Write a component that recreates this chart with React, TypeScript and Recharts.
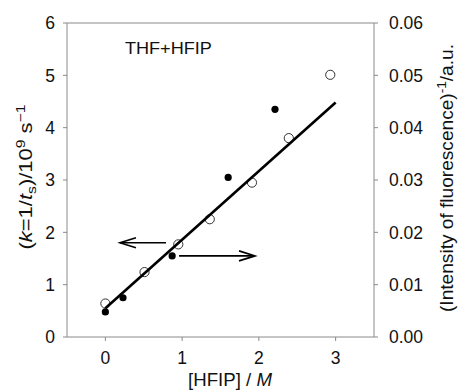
import { ComposedChart, XAxis, YAxis, Scatter, ReferenceLine, ReferenceDot } from "recharts"

// filled circles: rate constant (left axis)
const hfipFilled = [0, 0.23, 0.87, 1.6, 2.21]
const rateFilled = [0.48, 0.75, 1.55, 3.05, 4.35]

// open circles: inverse fluorescence intensity (right axis)
const hfipOpen = [0, 0.51, 0.95, 1.36, 1.91, 2.39, 2.93]
const invIntensity = [0.0064, 0.0124, 0.0177, 0.0225, 0.0295, 0.038, 0.0501]

// fitted straight line (left axis)
const fitX = [0, 3.0]
const fitY = [0.55, 4.48]

const xTicks = [0, 1, 2, 3]
const leftTicks = [0, 1, 2, 3, 4, 5, 6]
const rightTicks = [0, 0.01, 0.02, 0.03, 0.04, 0.05, 0.06]

// arrows pointing to the axis each series belongs to (left-axis units)
const arrowFrom = [0.79, 0.96]
const arrowTo = [0.19, 1.95]
const arrowY = [1.8, 1.55]

const filledData = hfipFilled.map((x, i) => ({ x, y: rateFilled[i] }))
const openData = hfipOpen.map((x, i) => ({ x, y: invIntensity[i] }))
const fitData = fitX.map((x, i) => ({ x, y: fitY[i] }))

const FONT = "'Liberation Sans', Arial, Helvetica, sans-serif"
const FRAME = "#8a8a8a"

const FilledDot = (p: any) => <circle cx={p.cx} cy={p.cy} r={3.6} fill="#000" />
const OpenDot = (p: any) => <circle cx={p.cx} cy={p.cy} r={4.6} fill="#fff" stroke="#333" strokeWidth={1} />

const Arrow = (p: any) => {
    const { x1, y1, x2, y2 } = p
    if (x1 == null) return null
    const dir = x2 > x1 ? 1 : -1
    return (
        <g stroke="#000" strokeWidth={1.6} fill="none">
            <line x1={x1} y1={y1} x2={x2} y2={y2} />
            <polyline points={`${x2 - dir * 16},${y2 - 5} ${x2},${y2} ${x2 - dir * 16},${y2 + 5}`} />
        </g>
    )
}

const LeftLabel = () => (
    <text
        transform="rotate(-90 32 177)"
        x={32}
        y={177}
        textAnchor="middle"
        fontSize={17.5}
        fill="#111"
        fontFamily={FONT}
        textLength={145}
        lengthAdjust="spacingAndGlyphs"
    >
        (<tspan fontStyle="italic">k</tspan>=1/<tspan fontStyle="italic">t</tspan>
        <tspan fontSize={12.5} dy={4}>s</tspan>
        <tspan dy={-4}>)/10</tspan>
        <tspan fontSize={12.5} dy={-7}>9</tspan>
        <tspan dy={7}> s</tspan>
        <tspan fontSize={12.5} dy={-7}>−1</tspan>
    </text>
)

const RightLabel = () => (
    <text
        transform="rotate(-90 453 178)"
        x={453}
        y={178}
        textAnchor="middle"
        fontSize={17.5}
        fill="#111"
        fontFamily={FONT}
        textLength={268}
        lengthAdjust="spacingAndGlyphs"
    >
        (Intensity of fluorescence)
        <tspan fontSize={12.5} dy={-7}>-1</tspan>
        <tspan dy={7}>/a.u.</tspan>
    </text>
)

const BottomLabel = () => (
    <text x={230} y={386} textAnchor="middle" fontSize={17.5} fill="#111" fontFamily={FONT} textLength={84} lengthAdjust="spacingAndGlyphs">
        [HFIP] / <tspan fontStyle="italic">M</tspan>
    </text>
)

const TitleLabel = (p: any) => (
    <text x={p.viewBox.x} y={p.viewBox.y} fontSize={17} fill="#111" fontFamily={FONT} textLength={87} lengthAdjust="spacingAndGlyphs">
        THF+HFIP
    </text>
)

export default function App() {
    const tick = { fontSize: 17.5, fill: "#111", fontFamily: FONT }
    return (
        <div style={{ position: "absolute", left: 0, top: 0 }}>
            <ComposedChart width={459} height={392} margin={{ top: 23, right: 0, bottom: 0, left: 0 }} style={{ fontFamily: FONT }}>
                <XAxis
                    type="number"
                    dataKey="x"
                    domain={[-0.5, 3.5]}
                    ticks={xTicks}
                    height={55}
                    tickSize={4}
                    tickMargin={11}
                    tick={tick}
                    axisLine={{ stroke: FRAME }}
                    tickLine={{ stroke: FRAME }}
                    allowDataOverflow
                    label={{ content: BottomLabel }}
                />
                <YAxis
                    yAxisId="left"
                    type="number"
                    dataKey="y"
                    domain={[0, 6]}
                    ticks={leftTicks}
                    width={67}
                    tickSize={4}
                    tickMargin={8}
                    tick={tick}
                    axisLine={{ stroke: FRAME }}
                    tickLine={{ stroke: FRAME }}
                    allowDataOverflow
                    label={{ content: LeftLabel }}
                />
                <YAxis
                    yAxisId="right"
                    orientation="right"
                    type="number"
                    dataKey="y"
                    domain={[0, 0.06]}
                    ticks={rightTicks}
                    tickFormatter={(v: number) => v.toFixed(2)}
                    width={85}
                    tickSize={4}
                    tickMargin={11}
                    tick={tick}
                    axisLine={{ stroke: FRAME }}
                    tickLine={{ stroke: FRAME }}
                    allowDataOverflow
                    label={{ content: RightLabel }}
                />
                <ReferenceLine yAxisId="left" y={6} stroke={FRAME} />
                <ReferenceDot yAxisId="left" x={0.255} y={5.41} r={0} label={{ content: TitleLabel }} />
                {arrowFrom.map((x, i) => (
                    <ReferenceLine
                        key={`arrow-${i}`}
                        yAxisId="left"
                        segment={[{ x, y: arrowY[i] }, { x: arrowTo[i], y: arrowY[i] }]}
                        shape={Arrow}
                    />
                ))}
                <Scatter yAxisId="right" data={openData} dataKey="y" shape={OpenDot} isAnimationActive={false} />
                <Scatter
                    yAxisId="left"
                    data={fitData}
                    dataKey="y"
                    line={{ stroke: "#000", strokeWidth: 2.6 }}
                    shape={() => null}
                    isAnimationActive={false}
                />
                <Scatter yAxisId="left" data={filledData} dataKey="y" shape={FilledDot} isAnimationActive={false} />
            </ComposedChart>
        </div>
    )
}
